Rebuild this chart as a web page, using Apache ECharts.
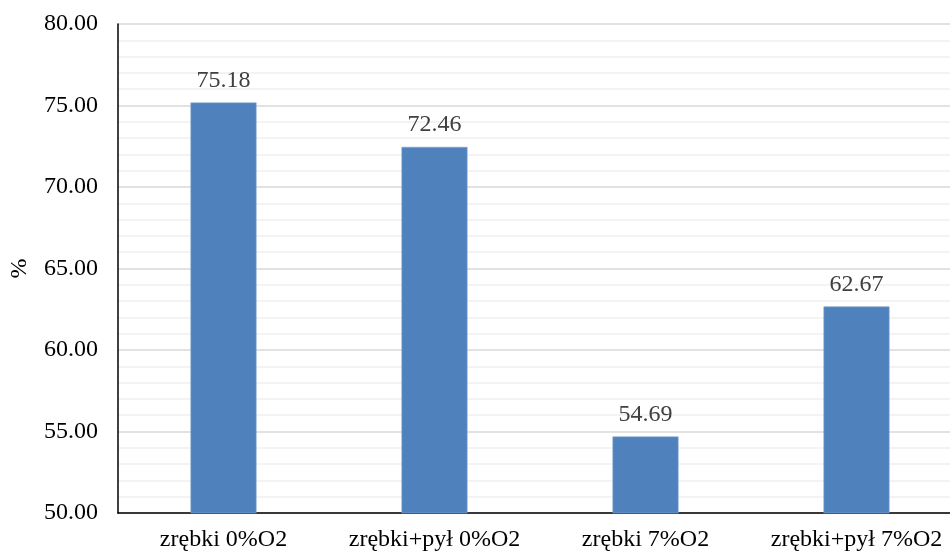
<!DOCTYPE html>
<html>
<head>
<meta charset="utf-8">
<script src="https://cdn.jsdelivr.net/npm/echarts@6/dist/echarts.min.js"></script>
<style>
  html, body { margin: 0; padding: 0; background: #fff; overflow: hidden; }
  /* The plot runs slightly past the right edge of the window */
  #chart { width: 962px; height: 551px; }
</style>
</head>
<body>
<div id="chart"></div>
<script>
// Categories and measured values
const categories = ['zrębki 0%O2', 'zrębki+pył 0%O2', 'zrębki 7%O2', 'zrębki+pył 7%O2'];
const values = [75.18, 72.46, 54.69, 62.67];
const yAxisName = '%';

const serif = '"Liberation Serif", "Times New Roman", serif';

const chart = echarts.init(document.getElementById('chart'));
chart.setOption({
  animation: false,
  grid: { left: 118, right: 0, top: 24, bottom: 38, containLabel: false, outerBoundsMode: 'none' },
  xAxis: {
    type: 'category',
    data: categories,
    axisLine: { lineStyle: { color: '#000', width: 1.5 } },
    axisTick: { show: false },
    axisLabel: { color: '#000', fontFamily: serif, fontSize: 24, margin: 15, interval: 0, hideOverlap: false },
    splitLine: { show: false }
  },
  yAxis: {
    type: 'value',
    min: 50,
    max: 80,
    interval: 5,
    name: yAxisName,
    nameLocation: 'middle',
    nameGap: 86,
    nameRotate: 90,
    nameTextStyle: { color: '#000', fontFamily: serif, fontSize: 24 },
    axisLine: { show: true, lineStyle: { color: '#000', width: 1.5 } },
    axisTick: { show: false },
    axisLabel: {
      color: '#000', fontFamily: serif, fontSize: 24, margin: 20,
      formatter: v => v.toFixed(2)
    },
    splitLine: { lineStyle: { color: '#d9d9d9', width: 1.5 } },
    minorTick: { show: false, splitNumber: 5 },
    minorSplitLine: { show: true, lineStyle: { color: '#efefef', width: 1.5 } }
  },
  series: [{
    type: 'bar',
    data: values,
    barWidth: 66,
    itemStyle: { color: '#4f81bd', borderColor: '#7ea3d3', borderWidth: 0.6 },
    label: {
      show: true,
      position: 'top',
      distance: 10,
      color: '#404040',
      fontFamily: serif,
      fontSize: 24,
      formatter: p => p.value.toFixed(2)
    }
  }]
});
</script>
</body>
</html>
